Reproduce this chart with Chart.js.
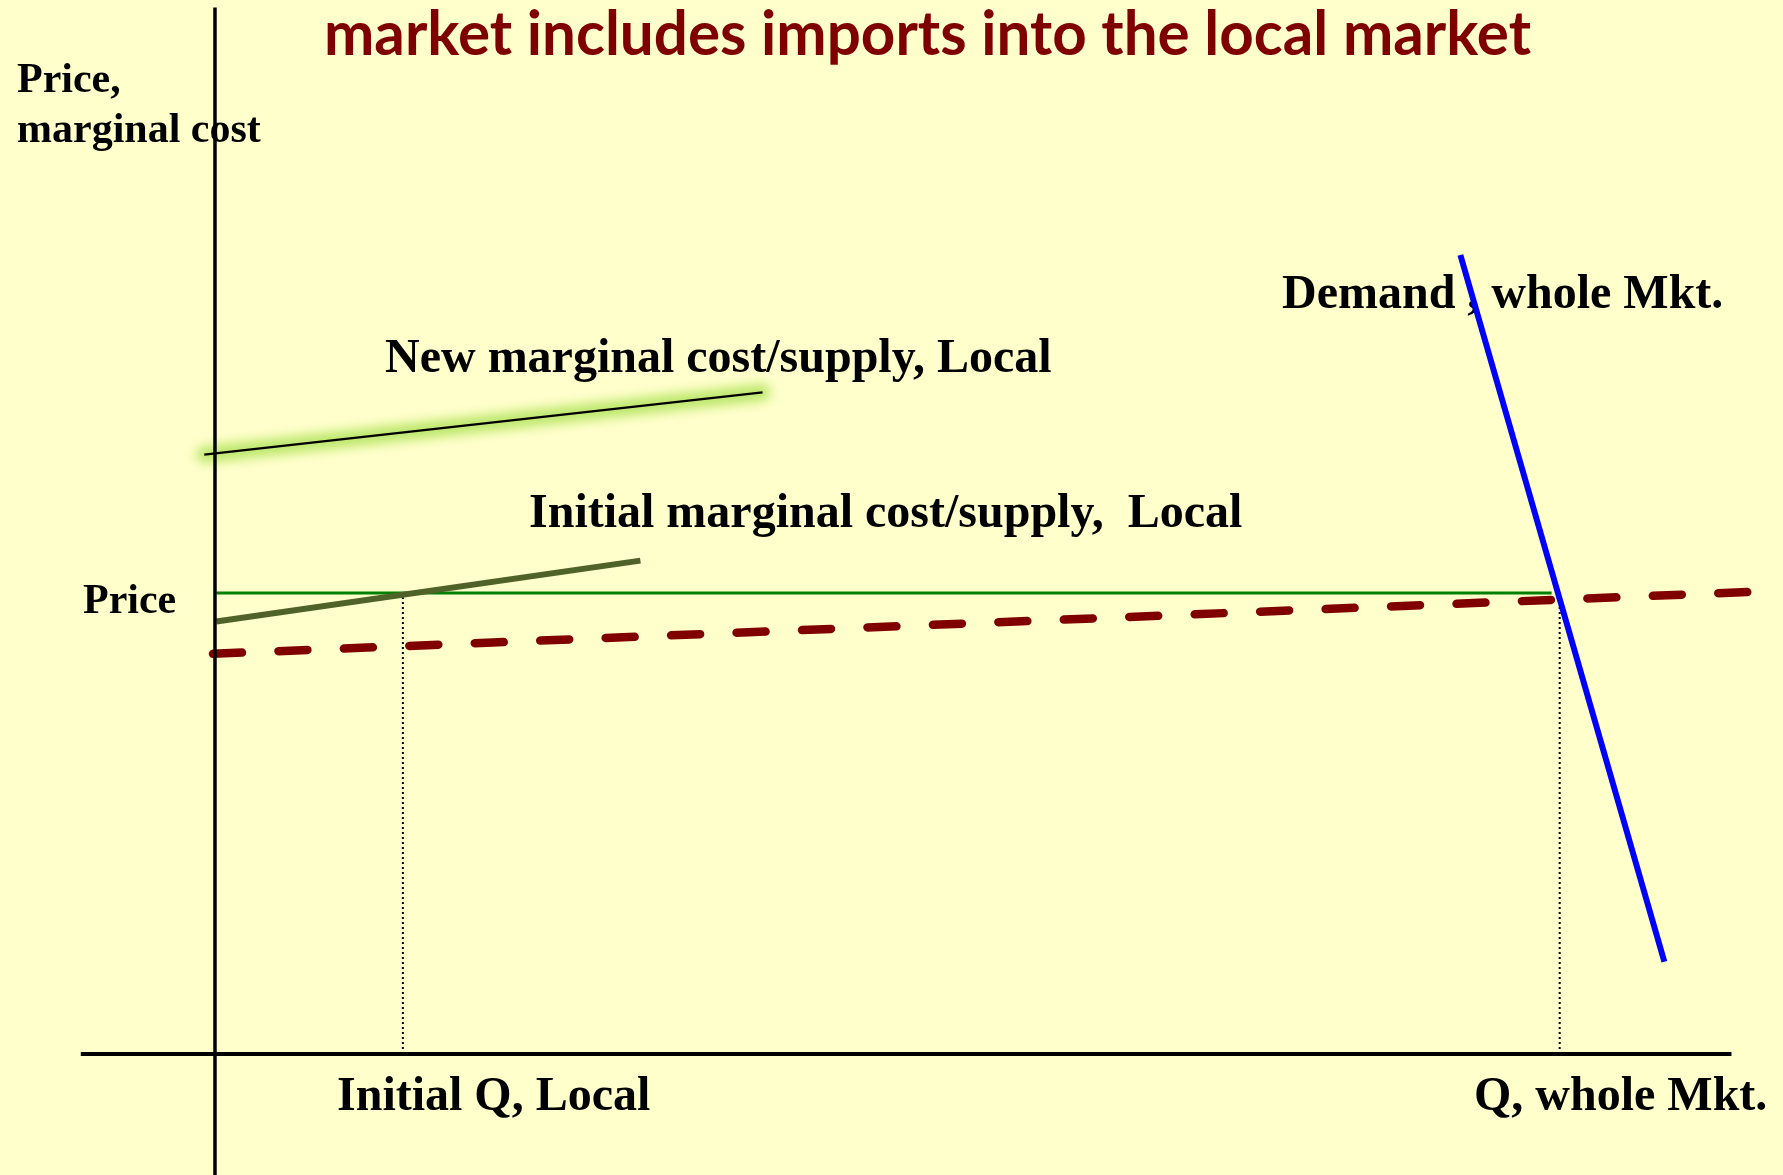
<!DOCTYPE html>
<html>
<head>
<meta charset="utf-8">
<title>market includes imports into the local market</title>
<script src="https://cdn.jsdelivr.net/npm/chart.js@4.4.1/dist/chart.umd.min.js"></script>
<style>
  html, body { margin: 0; padding: 0; background: #ffffcc; overflow: hidden; }
  canvas { display: block; }
</style>
</head>
<body>
<canvas id="chart" width="1783" height="1175"></canvas>
<script>
'use strict';

// quantity on x, price on y (arbitrary units, price level = 10)
const axisQ = [-10, 113];
const axisP = [-2.7, 22.7];

const newMcQ = [-0.8, 40.8];
const newMcP = [13.0, 14.35];

const initMcQ = [0.1, 31.7];
const initMcP = [9.38, 10.7];

const importQ = [-0.15, 114.3];
const importP = [8.68, 10.02];

const demandQ = [92.8, 108.0];
const demandP = [17.33, 2.0];

const priceQ = [0.1, 99.6];
const price = 10;

const localQ = 14;
const marketQ = 100.2;

const title = 'market includes imports into the local market';
const yLabel = ['Price,', 'marginal cost'];
const priceLabel = 'Price';
const xLabels = ['Initial Q, Local', 'Q, whole Mkt.'];
const curveLabels = ['New marginal cost/supply, Local', 'Initial marginal cost/supply,  Local', 'Demand , whole Mkt.'];

function pts(qs, ps) {
  return qs.map((q, i) => ({x: q, y: ps[i]}));
}

// text drawn under the lines (the axis runs over "cost")
const textPlugin = {
  id: 'slideText',
  beforeDatasetsDraw(chart) {
    const ctx = chart.ctx;
    ctx.save();
    ctx.textBaseline = 'alphabetic';
    ctx.textAlign = 'left';

    // title, Calibri-like, squeezed to the slide width
    ctx.fillStyle = '#7f0000';
    ctx.font = 'bold 62px Lato, "Open Sans", sans-serif';
    let w = ctx.measureText(title).width;
    ctx.save();
    ctx.translate(324, 55);
    ctx.scale(Math.min(1, 1207 / w), 1);
    ctx.fillText(title, 0, 0);
    ctx.restore();

    ctx.fillStyle = '#000';
    ctx.font = 'bold 42px "Liberation Serif", "Times New Roman", serif';
    ctx.fillText(yLabel[0], 17, 92);
    ctx.fillText(yLabel[1], 17, 142);
    ctx.fillText(priceLabel, 83, 613);

    ctx.font = 'bold 48px "Liberation Serif", "Times New Roman", serif';
    ctx.fillText(curveLabels[0], 385, 372);
    ctx.fillText(curveLabels[1], 529, 527);
    ctx.fillText(curveLabels[2], 1282, 308);
    ctx.fillText(xLabels[0], 337, 1110);
    ctx.fillText(xLabels[1], 1474, 1110);
    ctx.restore();
  },
  // soft glow round the new supply line
  beforeDatasetDraw(chart, args) {
    if (chart.data.datasets[args.index].glow) {
      chart.ctx.save();
      chart.ctx.filter = 'blur(6px)';
    }
  },
  afterDatasetDraw(chart, args) {
    if (chart.data.datasets[args.index].glow) {
      chart.ctx.restore();
    }
  }
};

const ctx = document.getElementById('chart');

new Chart(ctx, {
  type: 'scatter',
  data: {
    datasets: [
      {label: 'x axis', data: pts(axisQ, [0, 0]), borderColor: '#000', borderWidth: 4, order: 0},
      {label: 'y axis', data: pts([0, 0], axisP), borderColor: '#000', borderWidth: 3.5, order: 0},
      {label: 'Demand', data: pts(demandQ, demandP), borderColor: '#0000ff', borderWidth: 6, order: 1},
      {label: 'New MC', data: pts(newMcQ, newMcP), borderColor: '#000', borderWidth: 2.2, order: 2},
      {label: 'New MC glow', data: pts(newMcQ, newMcP), borderColor: 'rgba(170, 225, 80, 0.85)',
        borderWidth: 16, borderCapStyle: 'round', glow: true, order: 3},
      {label: 'Initial MC', data: pts(initMcQ, initMcP), borderColor: '#4f6228', borderWidth: 6, order: 4},
      {label: 'Initial Q', data: pts([localQ, localQ], [0, price]), borderColor: '#000', borderWidth: 2,
        borderDash: [2, 3], order: 5},
      {label: 'Market Q', data: pts([marketQ, marketQ], [0, price]), borderColor: '#000', borderWidth: 2,
        borderDash: [2, 3], order: 5},
      {label: 'Price', data: pts(priceQ, [price, price]), borderColor: '#008000', borderWidth: 3, order: 6},
      {label: 'Imports', data: pts(importQ, importP), borderColor: '#800000', borderWidth: 8.5,
        borderDash: [29, 36.5], borderCapStyle: 'round', order: 7}
    ]
  },
  options: {
    responsive: false,
    animation: false,
    showLine: true,
    layout: {padding: 0},
    elements: {point: {radius: 0, hoverRadius: 0}, line: {tension: 0}},
    scales: {
      x: {type: 'linear', display: false, min: -16.02, max: 116.84},
      y: {type: 'linear', display: false, min: -2.625, max: 22.86}
    },
    plugins: {
      legend: {display: false},
      tooltip: {enabled: false}
    },
    events: []
  },
  plugins: [textPlugin]
});
</script>
</body>
</html>
